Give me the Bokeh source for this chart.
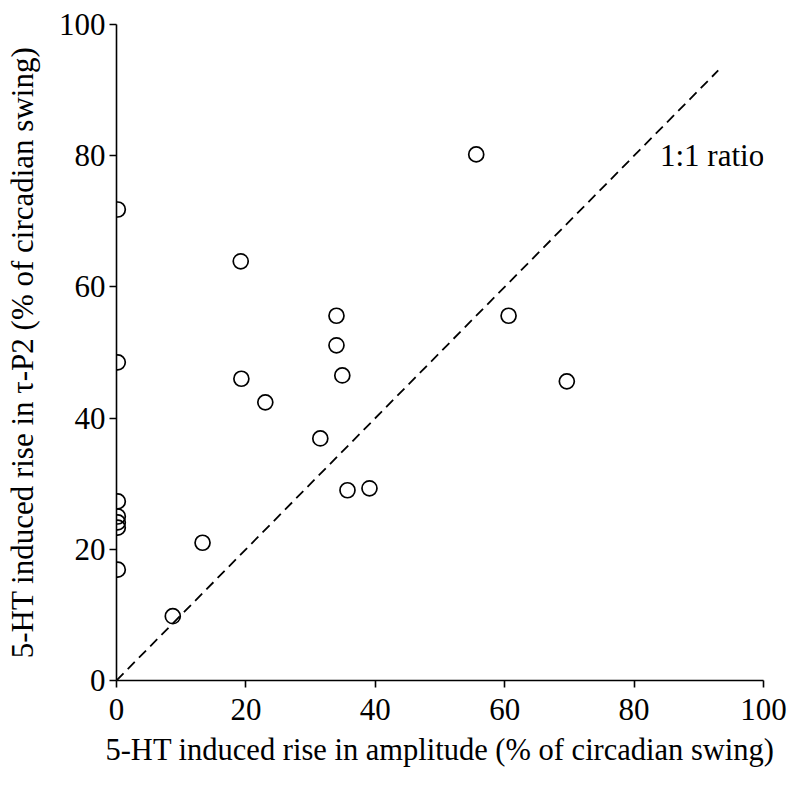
from bokeh.plotting import figure
from bokeh.embed import file_html
from bokeh.resources import INLINE
from bokeh.core.properties import value
from bokeh.models import Range1d, FixedTicker

# Data
amp_rise = [55.6, 0.2, 19.2, 34.0, 60.6, 34.0, 0.2, 19.3, 34.9, 69.6, 23.0,
            31.5, 35.7, 39.1, 0.2, 0.2, 0.2, 0.2, 13.3, 0.2, 8.7]
tau_rise = [80.2, 71.8, 63.9, 55.6, 55.6, 51.1, 48.5, 46.0, 46.5, 45.6, 42.4,
            36.9, 29.0, 29.3, 27.3, 25.0, 24.1, 23.3, 21.0, 16.9, 9.8]
ratio_x = [0, 93]
ratio_y = [0, 93]
ratio_label = ["1:1 ratio"]
ratio_label_x = [84]
ratio_label_y = [80]
ticks = [0, 20, 40, 60, 80, 100]

FONT = "Liberation Serif"

p = figure(width=792, height=777, output_backend="svg", toolbar_location=None,
           x_range=Range1d(0, 100), y_range=Range1d(0, 100),
           frame_width=647, frame_height=656,
           min_border_left=116, min_border_right=29,
           min_border_top=24, min_border_bottom=97)

p.outline_line_color = None
p.grid.visible = False
p.background_fill_color = "white"
p.border_fill_color = "white"

p.line(ratio_x, ratio_y, line_color="black", line_width=1.8, line_dash="10 6")
p.scatter(amp_rise, tau_rise, marker="circle", size=15, fill_color=None,
          line_color="black", line_width=1.7)
p.text(x=ratio_label_x, y=ratio_label_y, text=ratio_label,
       text_baseline="middle", text_align="left",
       text_font=value(FONT), text_font_size="31px", text_color="black")

for ax in (p.xaxis[0], p.yaxis[0]):
    ax.ticker = FixedTicker(ticks=ticks)
    ax.minor_tick_line_color = None
    ax.major_tick_in = 0
    ax.major_tick_out = 7
    ax.major_tick_line_width = 1.6
    ax.axis_line_width = 1.6
    ax.axis_line_color = "black"
    ax.major_tick_line_color = "black"
    ax.major_label_text_font = FONT
    ax.major_label_text_font_size = "31px"
    ax.major_label_text_color = "black"
    ax.axis_label_text_font = FONT
    ax.axis_label_text_font_style = "normal"
    ax.axis_label_text_color = "black"

p.xaxis.axis_label = "5-HT induced rise in amplitude (% of circadian swing)"
p.yaxis.axis_label = "5-HT induced rise in \u03c4-P2 (% of circadian swing)"
p.xaxis.axis_label_text_font_size = "30.5px"
p.yaxis.axis_label_text_font_size = "31px"
p.xaxis.major_label_standoff = 11
p.yaxis.major_label_standoff = 4
p.xaxis.axis_label_standoff = 10
p.yaxis.axis_label_standoff = 16

open("out.html", "w").write(file_html(p, INLINE))
